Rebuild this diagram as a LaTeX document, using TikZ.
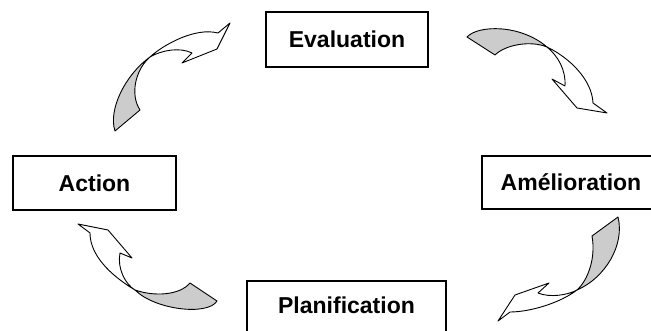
\documentclass[tikz,border=0pt]{standalone}
\usepackage{fontspec}
\setmainfont{Liberation Sans}
\usepackage{tikz}
\usetikzlibrary{calc,positioning}
\definecolor{grisfleche}{RGB}{204,204,204}

\begin{document}
\begin{tikzpicture}[x=1pt,y=-1pt,
		boite/.style={draw, line width=1.2pt, inner sep=0pt, text height=16.5pt, text depth=0pt,
			font=\fontsize{23}{27}\selectfont\bfseries},
		fleche/.style={line width=0.9pt, line join=round, fill=white},
		dos/.style={line width=0.9pt, line join=round, fill=grisfleche}]
			\useasboundingbox (0,0) rectangle (651,331);
			\clip (0,0) rectangle (651,331);
			% les quatre cases
			\node[boite, minimum width=162pt, minimum height=55pt] (E) at (347,39.5) {Evaluation};
			\node[boite, minimum width=178pt, minimum height=53pt] (M) at (571,182.5) {Amélioration};
			\node[boite, minimum width=199pt, minimum height=56pt, text depth=7pt] (P) at (346.5,309) {Planification};
			\node[boite, minimum width=163pt, minimum height=54pt] (A) at (94.5,183) {Action};
			% points de torsion des fleches
			\coordinate (C1) at (150,57);
			\coordinate (C2) at (547,47);
			\coordinate (C3) at (577,290);
			\coordinate (C4) at (135,290);
			% Action -> Evaluation
			\filldraw[dos] (C1) .. controls (125,75) and (108,110) .. (115,131) -- (140,110)
				.. controls (130,95) and (135,70) .. (C1) -- cycle;
			\filldraw[fleche] (C1) .. controls (163,45) and (195,27) .. (218,33) -- (230,23) -- (217,49)
				-- (182,63) -- (192,53) .. controls (180,47) and (162,50) .. (C1) -- cycle;
			% Evaluation -> Amelioration
			\filldraw[dos] (467,37) -- (495,55) .. controls (505,45) and (530,40) .. (C2)
				.. controls (520,24) and (478,25) .. (467,37) -- cycle;
			\filldraw[fleche] (C2) .. controls (570,58) and (592,80) .. (593,103) -- (607,113) -- (577,108)
				-- (552,79) -- (565,86) .. controls (566,70) and (558,56) .. (C2) -- cycle;
			% Amelioration -> Planification
			\filldraw[dos] (618,217) .. controls (625,245) and (605,278) .. (C3)
				.. controls (588,280) and (596,258) .. (592,236) -- cycle;
			\filldraw[fleche] (C3) .. controls (560,303) and (530,312) .. (510,312) -- (498,321) -- (515,295)
				-- (549,283) -- (538,293) .. controls (550,298) and (568,295) .. (C3) -- cycle;
			% Planification -> Action
			\filldraw[dos] (190,283) .. controls (180,295) and (155,297) .. (C4)
				.. controls (155,310) and (208,316) .. (217,301) -- cycle;
			\filldraw[fleche] (C4) .. controls (110,275) and (90,255) .. (90,233) -- (78,224) -- (108,230)
				-- (132,258) -- (120,253) .. controls (117,268) and (125,284) .. (C4) -- cycle;
		\end{tikzpicture}
\end{document}
